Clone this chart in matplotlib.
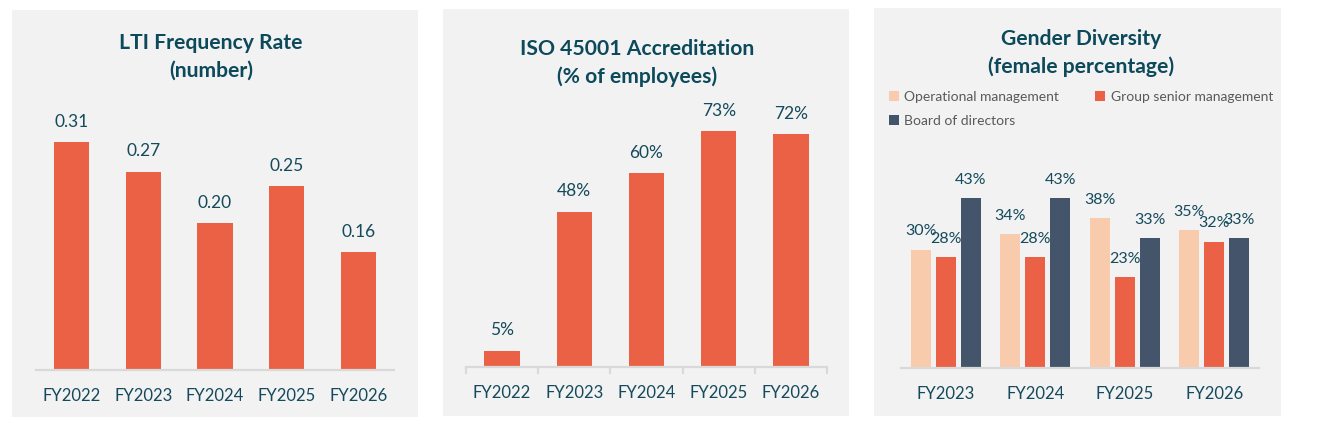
import matplotlib
matplotlib.use("Agg")
import matplotlib.pyplot as plt
from matplotlib.patches import Rectangle
from matplotlib.ticker import FixedLocator

# data
years_lti = ["FY2022", "FY2023", "FY2024", "FY2025", "FY2026"]
lti_rate = [0.31, 0.27, 0.20, 0.25, 0.16]

years_iso = ["FY2022", "FY2023", "FY2024", "FY2025", "FY2026"]
iso_pct = [5, 48, 60, 73, 72]

years_gender = ["FY2023", "FY2024", "FY2025", "FY2026"]
op_mgmt = [30, 34, 38, 35]
senior_mgmt = [28, 28, 23, 32]
board = [43, 43, 33, 33]
gender_series = ["Operational management", "Group senior management", "Board of directors"]

W, H = 1331, 429
BG = "#F2F2F2"
ORANGE = "#EB6146"
PEACH = "#F8CBAD"
SLATE = "#44546A"
TITLE_C = "#0C4A5B"
TEXT_C = "#144A5C"
LINE_C = "#D9D9D9"

plt.rcParams['font.family'] = ['Lato', 'DejaVu Sans']

fig = plt.figure(figsize=(W / 100, H / 100), dpi=100)
fig.patch.set_facecolor("white")


def px_box(x0, y0, x1, y1):
    return [x0 / W, 1 - y1 / H, (x1 - x0) / W, (y1 - y0) / H]


def panel_bg(x0, y0, x1, y1):
    # grey card behind each chart
    r = Rectangle((x0 / W, 1 - y1 / H), (x1 - x0) / W, (y1 - y0) / H,
                  transform=fig.transFigure, facecolor=BG,
                  edgecolor="none", zorder=-10)
    fig.add_artist(r)


def style_axes(ax, labels):
    ax.set_facecolor("none")
    ax.set_zorder(5)
    for s in ["top", "right", "left"]:
        ax.spines[s].set_visible(False)
    ax.spines["bottom"].set_color(LINE_C)
    ax.spines["bottom"].set_linewidth(1.6)
    ax.set_yticks([])
    ax.set_xticks(range(len(labels)))
    ax.set_xticklabels(labels, fontsize=12, color=TEXT_C)
    ax.tick_params(axis="x", length=0, pad=13)
    ax.set_xlim(-0.5, len(labels) - 0.5)


def title(xc, y, text):
    fig.text(xc / W, 1 - y / H, text, ha="center", va="center", fontsize=15.2,
             fontweight="bold", color=TITLE_C, linespacing=1.45, zorder=6)


# panel 1
panel_bg(12, 10, 418, 417)
ax1 = fig.add_axes(px_box(36, 100, 394, 370))
bars = ax1.bar(range(len(years_lti)), lti_rate, width=0.49, color=ORANGE)
ax1.bar_label(bars, labels=[f"{v:.2f}" for v in lti_rate], padding=9,
              fontsize=12.5, color=TEXT_C)
ax1.set_ylim(0, 270 / 735)
style_axes(ax1, years_lti)
title(211, 57, "LTI Frequency Rate\n(number)")

# panel 2
panel_bg(443, 9, 849, 416)
ax2 = fig.add_axes(px_box(466, 100, 827, 367))
bars = ax2.bar(range(len(years_iso)), iso_pct, width=0.49, color=ORANGE)
ax2.bar_label(bars, labels=[f"{v}%" for v in iso_pct], padding=9,
              fontsize=12.5, color=TEXT_C)
ax2.set_ylim(0, 267 / 3.23)
style_axes(ax2, years_iso)
ax2.xaxis.set_minor_locator(FixedLocator([i - 0.5 for i in range(len(years_iso) + 1)]))
ax2.tick_params(axis="x", which="minor", length=5, width=1.6, color=LINE_C)
title(637, 63, "ISO 45001 Accreditation\n(% of employees)")

# panel 3
panel_bg(874, 8, 1281, 416)
ax3 = fig.add_axes(px_box(901, 150, 1259, 368))
step = 0.279
bw = 0.223
colors = [PEACH, ORANGE, SLATE]
handles = []
for k, (vals, c, name) in enumerate(zip([op_mgmt, senior_mgmt, board], colors, gender_series)):
    xs = [i + (k - 1) * step for i in range(len(years_gender))]
    b = ax3.bar(xs, vals, width=bw, color=c, label=name)
    handles.append(b)
    ax3.bar_label(b, labels=[f"{v}%" for v in vals], padding=8,
                  fontsize=11.5, color=TEXT_C)
ax3.set_ylim(0, 218 / 3.95)
style_axes(ax3, years_gender)
title(1081, 53, "Gender Diversity\n(female percentage)")
# order so the legend reads row by row
order = [0, 2, 1]
leg = ax3.legend([handles[i] for i in order], [gender_series[i] for i in order],
                 ncol=2, loc="upper left", bbox_to_anchor=(889 / W, 1 - 91 / H),
                 bbox_transform=fig.transFigure, frameon=False, fontsize=10,
                 handlelength=0.7, handleheight=0.7, handletextpad=0.4,
                 columnspacing=2.6, labelspacing=0.85, borderaxespad=0, borderpad=0)
for t in leg.get_texts():
    t.set_color("#595959")

fig.savefig("out.png", dpi=100, facecolor="white")
